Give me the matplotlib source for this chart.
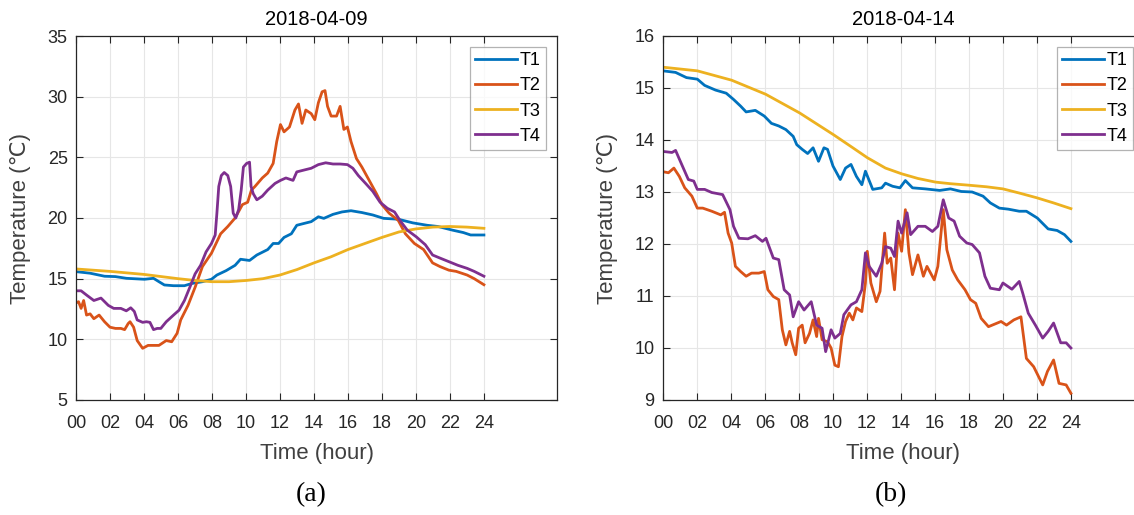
import matplotlib
matplotlib.use("Agg")
import matplotlib.pyplot as plt

plt.rcParams['font.family'] = ['Liberation Sans', 'DejaVu Sans']

# ---- data (hours, deg C) ----
# 2018-04-09
a_t1_h = [0, 0.83, 1.68, 2.32, 2.96, 4.03, 4.56, 4.88, 5.2, 5.74, 6.38, 6.8, 7.44, 7.97, 8.29,
          8.83, 9.36, 9.68, 10.21, 10.64, 11.28, 11.6, 11.92, 12.24, 12.67, 12.99, 13.41, 13.84,
          14.26, 14.58, 15.12, 15.65, 16.18, 16.82, 17.46, 18.1, 18.96, 19.81, 20.66, 21.3,
          22.15, 22.79, 23.22, 24]
a_t1 = [15.58, 15.45, 15.2, 15.17, 15.03, 14.95, 15.03, 14.75, 14.48, 14.42, 14.42, 14.6, 14.75,
        14.95, 15.3, 15.66, 16.1, 16.6, 16.5, 16.95, 17.4, 17.9, 17.9, 18.4, 18.7, 19.4, 19.55,
        19.7, 20.1, 19.97, 20.3, 20.5, 20.6, 20.45, 20.25, 19.97, 19.9, 19.6, 19.4, 19.3, 19.0,
        18.8, 18.6, 18.6]

a_t2_h = [0, 0.15, 0.3, 0.45, 0.62, 0.83, 1.05, 1.36, 1.68, 2.0, 2.32, 2.64, 2.86, 3.07, 3.18,
          3.39, 3.6, 3.92, 4.24, 4.88, 5.31, 5.63, 5.95, 6.16, 6.59, 7.01, 7.44, 7.97, 8.51, 8.93,
          9.36, 9.79, 10.1, 10.32, 10.53, 10.96, 11.28, 11.6, 11.81, 12.03, 12.24, 12.56, 12.88,
          13.09, 13.3, 13.52, 13.84, 14.05, 14.26, 14.48, 14.65, 14.8, 15.01, 15.33, 15.54, 15.76,
          15.97, 16.18, 16.5, 16.82, 17.25, 17.68, 18.0, 18.42, 18.96, 19.38, 19.91, 20.45,
          20.98, 21.41, 21.94, 22.37, 23.01, 23.43, 24]
a_t2 = [13.0, 13.1, 12.55, 13.2, 12.0, 12.1, 11.7, 12.0, 11.45, 11.0, 10.9, 10.9, 10.8, 11.3,
        11.45, 11.0, 9.9, 9.26, 9.5, 9.5, 9.9, 9.8, 10.5, 11.6, 12.8, 14.3, 16.0, 17.1, 18.7,
        19.3, 20.0, 21.1, 21.3, 22.3, 22.6, 23.3, 23.7, 24.5, 26.3, 27.7, 27.1, 27.5, 28.9, 29.4,
        27.8, 28.9, 28.6, 28.1, 29.5, 30.4, 30.5, 29.2, 28.4, 28.4, 29.2, 27.3, 27.5, 26.3, 24.9,
        24.2, 23.1, 22.0, 21.1, 20.4, 19.8, 18.7, 17.9, 17.4, 16.3, 16.0, 15.7, 15.6, 15.3,
        15.0, 14.5]

a_t3_h = [0, 2, 4, 6, 7, 8, 9, 10, 11, 12, 13, 14, 15, 16, 17, 18, 19, 20, 21, 22, 23, 24]
a_t3 = [15.8, 15.6, 15.35, 15.0, 14.85, 14.75, 14.75, 14.85, 15.0, 15.3, 15.75, 16.3, 16.8,
        17.4, 17.9, 18.4, 18.85, 19.1, 19.25, 19.3, 19.25, 19.15]

a_t4_h = [0, 0.3, 0.62, 1.05, 1.47, 1.9, 2.22, 2.64, 2.96, 3.22, 3.43, 3.6, 3.92, 4.14, 4.35,
          4.56, 4.78, 4.99, 5.31, 5.74, 6.06, 6.38, 6.7, 7.01, 7.33, 7.65, 7.97, 8.19, 8.29, 8.4,
          8.55, 8.72, 8.93, 9.1, 9.25, 9.4, 9.57, 9.72, 9.85, 10.04, 10.21, 10.3, 10.43, 10.64,
          10.96, 11.28, 11.71, 12.03, 12.35, 12.77, 12.99, 13.41, 13.84, 14.26, 14.69, 15.12,
          15.54, 15.97, 16.29, 16.61, 17.04, 17.46, 17.89, 18.32, 18.74, 19.06, 19.49, 20.02,
          20.55, 20.98, 21.41, 21.94, 22.47, 23.01, 23.43, 24]
a_t4 = [14.0, 14.0, 13.65, 13.2, 13.4, 12.8, 12.55, 12.55, 12.35, 12.6, 12.3, 11.6, 11.4, 11.45,
        11.4, 10.8, 10.9, 10.9, 11.45, 12.0, 12.4, 13.2, 14.3, 15.4, 16.1, 17.2, 17.9, 18.6,
        20.4, 22.6, 23.5, 23.75, 23.5, 22.6, 20.4, 20.0, 20.7, 22.3, 24.2, 24.5, 24.6, 22.6,
        22.0, 21.5, 21.8, 22.3, 22.85, 23.1, 23.3, 23.1, 23.8, 23.95, 24.1, 24.4, 24.55, 24.45,
        24.45, 24.4, 24.1, 23.5, 22.85, 22.2, 21.3, 20.8, 20.5, 19.8, 19.0, 18.45, 17.8, 16.95,
        16.7, 16.4, 16.1, 15.85, 15.6, 15.2]

# 2018-04-14
b_t1_h = [0, 0.74, 1.38, 2.02, 2.45, 3.09, 3.72, 4.15, 4.57, 4.89, 5.43, 5.96, 6.38, 6.81, 7.23,
          7.66, 7.87, 8.19, 8.51, 8.83, 9.15, 9.47, 9.68, 10.0, 10.43, 10.74, 11.06, 11.38, 11.7,
          11.91, 12.34, 12.87, 13.09, 13.51, 13.94, 14.26, 14.68, 15.43, 16.28, 16.91, 17.55,
          18.19, 18.83, 19.26, 19.79, 20.32, 20.96, 21.38, 22.02, 22.66, 23.19, 23.62, 24]
b_t1 = [15.33, 15.3, 15.2, 15.17, 15.05, 14.96, 14.9, 14.78, 14.65, 14.54, 14.57, 14.46, 14.32,
        14.27, 14.2, 14.07, 13.91, 13.82, 13.74, 13.85, 13.59, 13.85, 13.82, 13.5, 13.24, 13.46,
        13.53, 13.3, 13.14, 13.4, 13.05, 13.08, 13.17, 13.11, 13.08, 13.22, 13.08, 13.06, 13.03,
        13.06, 13.01, 13.0, 12.92, 12.79, 12.69, 12.67, 12.63, 12.63, 12.5, 12.29, 12.26, 12.18,
        12.05]

b_t2_h = [0, 0.32, 0.64, 0.96, 1.28, 1.7, 2.02, 2.34, 2.87, 3.4, 3.62, 3.83, 4.04, 4.26, 4.57,
          4.89, 5.21, 5.64, 5.96, 6.17, 6.49, 6.81, 7.02, 7.23, 7.45, 7.6, 7.81, 7.98, 8.19, 8.36,
          8.62, 8.83, 9.04, 9.15, 9.36, 9.68, 9.89, 10.11, 10.32, 10.53, 10.74, 10.96, 11.17,
          11.38, 11.7, 11.91, 12.02, 12.23, 12.55, 12.77, 13.04, 13.19, 13.4, 13.62, 13.83, 14.04,
          14.26, 14.47, 14.68, 15.0, 15.32, 15.53, 15.96, 16.17, 16.49, 16.7, 17.02, 17.34, 17.77,
          18.09, 18.4, 18.72, 19.15, 19.89, 20.21, 20.64, 21.06, 21.38, 21.81, 22.34, 22.62,
          22.98, 23.3, 23.72, 24]
b_t2 = [13.39, 13.37, 13.46, 13.3, 13.08, 12.92, 12.69, 12.69, 12.63, 12.56, 12.61, 12.21, 12.02,
        11.57, 11.47, 11.38, 11.44, 11.44, 11.47, 11.12, 10.99, 10.93, 10.35, 10.06, 10.32, 10.1,
        9.87, 10.38, 10.44, 10.1, 10.28, 10.54, 10.22, 10.57, 10.16, 10.12, 10.0, 9.67, 9.64,
        10.22, 10.51, 10.67, 10.54, 10.77, 10.7, 11.25, 11.86, 11.25, 10.89, 11.09, 12.21, 11.63,
        11.73, 11.12, 12.21, 11.86, 12.66, 11.83, 11.41, 11.79, 11.38, 11.57, 11.31, 11.57,
        12.66, 11.89, 11.5, 11.31, 11.12, 10.93, 10.86, 10.57, 10.41, 10.51, 10.44, 10.54, 10.6,
        9.8, 9.64, 9.29, 9.55, 9.77, 9.32, 9.29, 9.13]

b_t3_h = [0, 2.02, 4.04, 6.04, 8.04, 10.04, 11.17, 12.02, 13.09, 14.04, 15.0, 16.04, 16.9, 18.02,
          19.04, 20.0, 20.96, 21.98, 22.98, 24]
b_t3 = [15.4, 15.33, 15.15, 14.88, 14.52, 14.1, 13.85, 13.66, 13.46, 13.35, 13.26, 13.19, 13.16,
        13.13, 13.1, 13.06, 12.98, 12.89, 12.79, 12.68]

b_t4_h = [0, 0.53, 0.74, 1.06, 1.49, 1.81, 2.02, 2.45, 2.87, 3.51, 3.94, 4.15, 4.47, 5.0, 5.43,
          5.85, 6.06, 6.49, 6.81, 7.13, 7.45, 7.66, 7.98, 8.3, 8.72, 9.04, 9.36, 9.57, 9.89, 10.11,
          10.43, 10.64, 11.06, 11.38, 11.7, 11.91, 12.13, 12.55, 12.87, 13.09, 13.4, 13.62, 13.83,
          14.04, 14.36, 14.57, 15.0, 15.43, 15.85, 16.17, 16.49, 16.81, 17.13, 17.45, 17.87,
          18.19, 18.62, 18.94, 19.26, 19.79, 20.0, 20.53, 20.96, 21.17, 21.49, 21.91, 22.34,
          22.66, 22.98, 23.4, 23.72, 24]
b_t4 = [13.78, 13.76, 13.8, 13.56, 13.24, 13.21, 13.05, 13.05, 12.99, 12.95, 12.66, 12.34, 12.11,
        12.1, 12.16, 12.05, 12.11, 11.73, 11.7, 11.12, 11.02, 10.6, 10.89, 10.73, 10.89, 10.44,
        10.38, 9.93, 10.35, 10.19, 10.28, 10.64, 10.83, 10.89, 11.12, 11.83, 11.57, 11.38, 11.63,
        11.95, 11.92, 11.76, 12.44, 12.21, 12.6, 12.18, 12.34, 12.34, 12.24, 12.34, 12.85, 12.5,
        12.44, 12.15, 12.02, 11.99, 11.83, 11.38, 11.15, 11.12, 11.25, 11.13, 11.28, 11.05,
        10.67, 10.44, 10.19, 10.32, 10.48, 10.1, 10.1, 10.0]

series_names = ['T1', 'T2', 'T3', 'T4']
colors = ['#0072BD', '#D95319', '#EDB120', '#7E2F8E']
hour_ticks = list(range(0, 25, 2))
hour_labels = ['%02d' % h for h in hour_ticks]

panels = [
    dict(title='2018-04-09', tag='(a)', ylim=(5, 35), yticks=range(5, 36, 5),
         data=[(a_t1_h, a_t1), (a_t2_h, a_t2), (a_t3_h, a_t3), (a_t4_h, a_t4)]),
    dict(title='2018-04-14', tag='(b)', ylim=(9, 16), yticks=range(9, 17),
         data=[(b_t1_h, b_t1), (b_t2_h, b_t2), (b_t3_h, b_t3), (b_t4_h, b_t4)]),
]

W, H = 1134, 515
fig = plt.figure(figsize=(W / 100, H / 100), dpi=100)
ax_left = [76, 663]
tag_x = [311, 891]
txt = '#262626'

for i, p in enumerate(panels):
    ax = fig.add_axes([ax_left[i] / W, 115 / H, 481 / W, 364 / H])
    for (hx, hy), name, c in zip(p['data'], series_names, colors):
        ax.plot(hx, hy, color=c, lw=2.0, label=name)
    ax.set_xlim(0, 28.3)
    ax.set_ylim(*p['ylim'])
    ax.set_xticks(hour_ticks)
    ax.set_xticklabels(hour_labels)
    ax.set_yticks(list(p['yticks']))
    ax.grid(True, color='#e6e6e6', lw=0.8)
    ax.set_axisbelow(True)
    ax.tick_params(direction='in', top=True, right=True, length=5, width=0.8,
                   labelsize=13, colors=txt, pad=6)
    ax.tick_params(axis='x', pad=11)
    for s in ax.spines.values():
        s.set_color(txt)
        s.set_linewidth(0.9)
    ax.set_title(p['title'], fontsize=14.5, color='black', pad=8)
    ax.set_xlabel('Time (hour)', fontsize=16, color='#404040', labelpad=8)
    ax.set_ylabel('Temperature (\u2103)', fontsize=16, color='#404040', labelpad=12)
    leg = ax.legend(loc='upper right', bbox_to_anchor=(0.977, 0.970), borderaxespad=0,
                    fontsize=13, fancybox=False, handlelength=2.3, handletextpad=0.15,
                    labelspacing=0.45, borderpad=0.3)
    leg.get_frame().set_edgecolor('#a0a0a0')
    leg.get_frame().set_linewidth(0.9)
    fig.text(tag_x[i] / W, 20 / H, p['tag'], ha='center', va='center',
             fontsize=20, family='Liberation Serif')

fig.savefig('out.png', dpi=100)
